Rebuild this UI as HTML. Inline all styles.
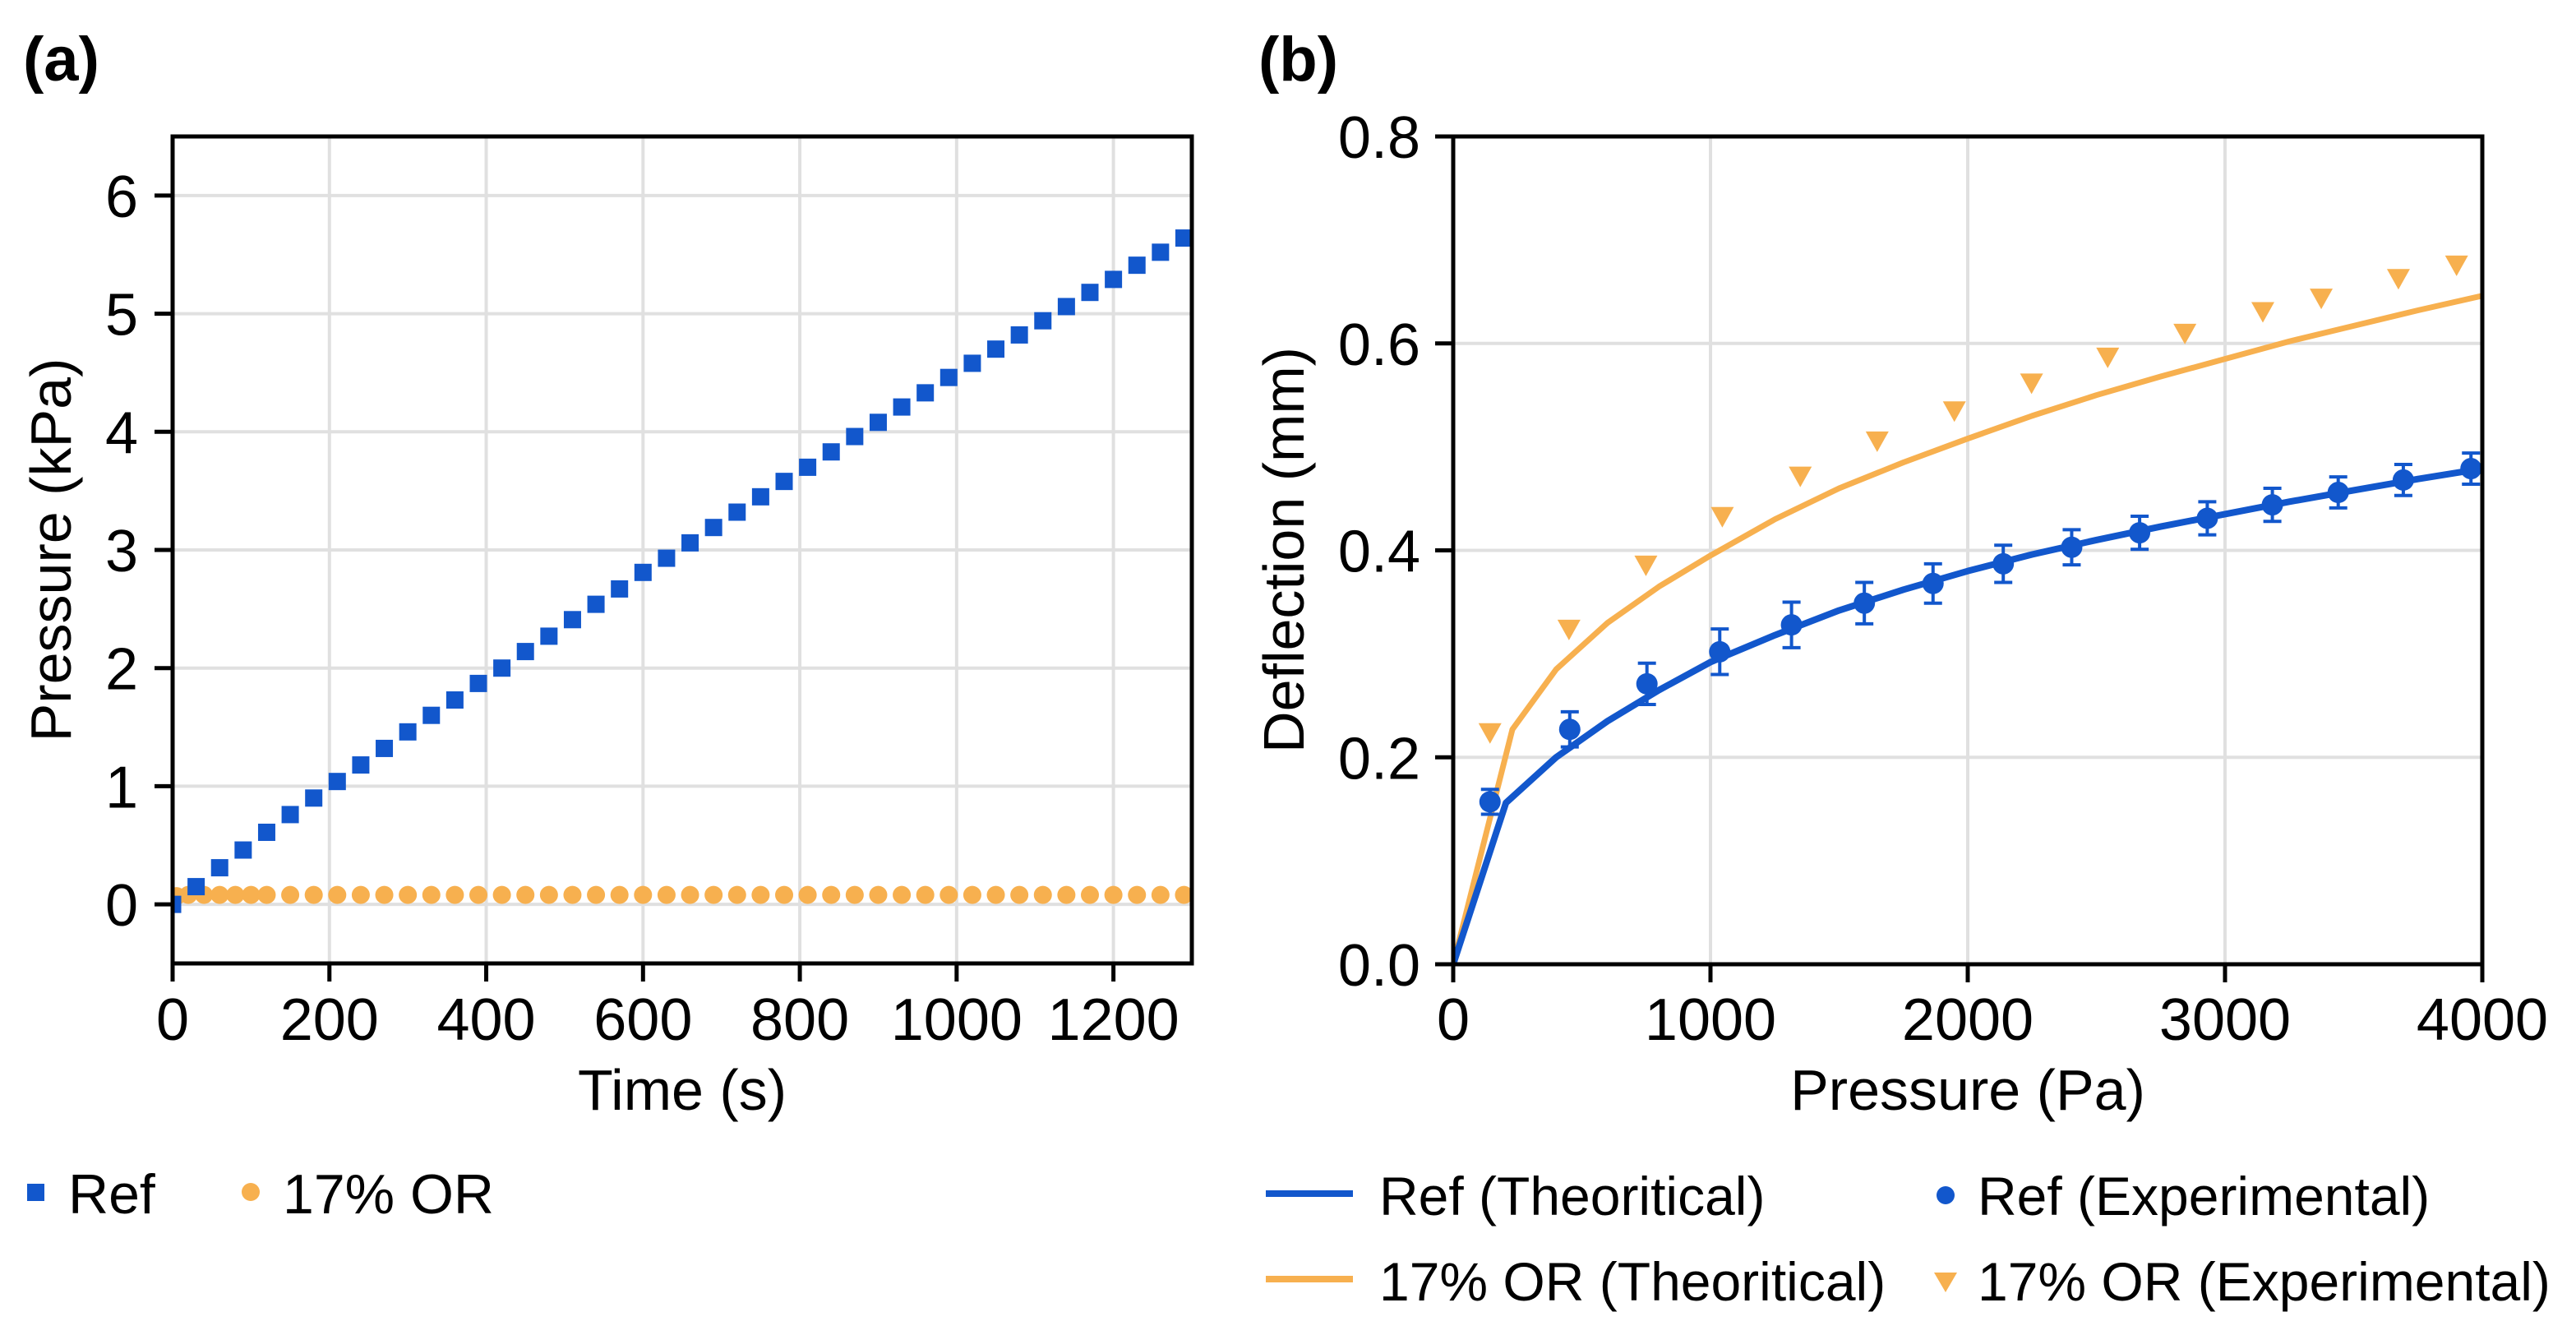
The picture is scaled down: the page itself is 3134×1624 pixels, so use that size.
<!DOCTYPE html>
<html><head><meta charset="utf-8"><style>
html,body{margin:0;padding:0;background:#fff;}
svg{display:block;font-family:"Liberation Sans",sans-serif;}
</style></head><body>
<svg id="fig" width="3134" height="1624" viewBox="0 0 3134 1624" xmlns="http://www.w3.org/2000/svg">
<text x="28" y="98" font-size="76" font-weight="bold">(a)</text>
<text x="1531" y="98" font-size="76" font-weight="bold">(b)</text>
<g id="pa"></g>
<g id="pb"></g>
<g>
<rect x="33" y="1440" width="21" height="21" fill="#1257cc"/>
<text x="83" y="1476" font-size="68">Ref</text>
<circle cx="305" cy="1450" r="11" fill="#f7b04f"/>
<text x="344" y="1476" font-size="68">17% OR</text>
</g>
<g>
<line x1="1540" y1="1452" x2="1646" y2="1452" stroke="#1257cc" stroke-width="8"/>
<text x="1678" y="1478" font-size="66">Ref (Theoritical)</text>
<line x1="1540" y1="1556" x2="1646" y2="1556" stroke="#f7b04f" stroke-width="8"/>
<text x="1678" y="1582" font-size="66">17% OR (Theoritical)</text>
<circle cx="2367" cy="1454" r="11" fill="#1257cc"/>
<text x="2406" y="1478" font-size="66">Ref (Experimental)</text>
<path d="M2353,1548 L2381,1548 L2367,1572 Z" fill="#f7b04f"/>
<text x="2406" y="1582" font-size="66">17% OR (Experimental)</text>
</g>
</svg>
<script>
// Panel A data
const aRefT = [0,30,60,90,120,150,180,210,240,270,300,330,360,390,420,450,480,510,540,570,600,630,660,690,720,750,780,810,840,870,900,930,960,990,1020,1050,1080,1110,1140,1170,1200,1230,1260,1290];
const aRefP = [0.0,0.15,0.31,0.46,0.61,0.76,0.90,1.04,1.18,1.32,1.46,1.60,1.73,1.87,2.00,2.14,2.27,2.41,2.54,2.67,2.81,2.93,3.06,3.19,3.32,3.45,3.58,3.70,3.83,3.96,4.08,4.21,4.33,4.46,4.58,4.70,4.82,4.94,5.06,5.18,5.29,5.41,5.52,5.64];
const aOrT = [5,20,40,60,80,100,120,150,180,210,240,270,300,330,360,390,420,450,480,510,540,570,600,630,660,690,720,750,780,810,840,870,900,930,960,990,1020,1050,1080,1110,1140,1170,1200,1230,1260,1290];
const aOrP = [0.07,0.08,0.08,0.08,0.08,0.08,0.08,0.08,0.08,0.08,0.08,0.08,0.08,0.08,0.08,0.08,0.08,0.08,0.08,0.08,0.08,0.08,0.08,0.08,0.08,0.08,0.08,0.08,0.08,0.08,0.08,0.08,0.08,0.08,0.08,0.08,0.08,0.08,0.08,0.08,0.08,0.08,0.08,0.08,0.08,0.08];
const aXTicks = [0,200,400,600,800,1000,1200];
const aYTicks = [0,1,2,3,4,5,6];
// Panel B data
const bRefTheoX = [0,205,400,600,800,1000,1250,1500,1750,2000,2250,2500,2750,3000,3250,3500,3750,4000];
const bRefTheoY = [0,0.156,0.2,0.235,0.265,0.292,0.318,0.342,0.362,0.38,0.396,0.41,0.423,0.435,0.447,0.458,0.469,0.479];
const bOrTheoX = [0,230,400,600,800,1000,1250,1500,1750,2000,2250,2500,2750,3000,3250,3500,3750,4000];
const bOrTheoY = [0,0.227,0.285,0.33,0.365,0.395,0.43,0.46,0.485,0.508,0.53,0.55,0.568,0.585,0.602,0.617,0.632,0.646];
const bRefExpX = [143,453,753,1036,1315,1598,1865,2138,2404,2668,2931,3184,3440,3693,3956];
const bRefExpY = [0.157,0.227,0.271,0.302,0.328,0.349,0.368,0.387,0.403,0.417,0.431,0.444,0.456,0.468,0.479];
const bRefExpErr = [0.012,0.017,0.02,0.022,0.022,0.02,0.019,0.018,0.017,0.016,0.016,0.016,0.015,0.015,0.015];
const bOrExpX = [143,450,749,1046,1349,1648,1948,2248,2544,2844,3147,3374,3674,3900];
const bOrExpY = [0.225,0.325,0.387,0.434,0.473,0.507,0.536,0.563,0.588,0.611,0.632,0.645,0.664,0.677];
const bXTicks = [0,1000,2000,3000,4000];
const bYTicks = [0,0.2,0.4,0.6,0.8];
const bYLabels = ["0.0","0.2","0.4","0.6","0.8"];

const NS="http://www.w3.org/2000/svg";
const BLUE="#1257cc", ORANGE="#f7b04f";
const TF=72;
function mk(parent,tag,attrs){const e=document.createElementNS(NS,tag);for(const k in attrs)e.setAttribute(k,attrs[k]);parent.appendChild(e);return e;}

// Panel A
const ga=document.getElementById('pa');
const aL=210,aR=1450,aT=166,aB=1172;
const ax=v=>aL+(v-0)/1300*(aR-aL);
const ay=v=>aB-(v+0.5)/7*(aB-aT);
aXTicks.forEach(t=>{const g=mk(ga,'line',{x1:ax(t),x2:ax(t),y1:aT,y2:aB,stroke:'#e0e0e0','stroke-width':4});


const tk=mk(ga,'line',{x1:ax(t),x2:ax(t),y1:aB,y2:aB+22,stroke:'#000','stroke-width':5});


const tx=mk(ga,'text',{x:ax(t),y:1265,'font-size':TF,'text-anchor':'middle'});tx.textContent=t;

});
aYTicks.forEach(t=>{const g=mk(ga,'line',{x1:aL,x2:aR,y1:ay(t),y2:ay(t),stroke:'#e0e0e0','stroke-width':4});


const tk=mk(ga,'line',{x1:aL-22,x2:aL,y1:ay(t),y2:ay(t),stroke:'#000','stroke-width':5});


const tx=mk(ga,'text',{x:168,y:ay(t)+26,'font-size':TF,'text-anchor':'end'});tx.textContent=t;

});
const clipA=mk(ga,'clipPath',{id:'ca'});mk(clipA,'rect',{x:aL,y:aT,width:aR-aL,height:aB-aT});
const ma=mk(ga,'g',{'clip-path':'url(#ca)'});


aOrT.forEach((t,i)=>{const c=mk(ma,'circle',{cx:ax(t),cy:ay(aOrP[i]),r:11,fill:ORANGE});

});
aRefT.forEach((t,i)=>{const r=mk(ma,'rect',{x:ax(t)-10.5,y:ay(aRefP[i])-10.5,width:21,height:21,fill:BLUE});

});
const fa=mk(ga,'rect',{x:aL,y:aT,width:aR-aL,height:aB-aT,fill:'none',stroke:'#000','stroke-width':5});


const xta=mk(ga,'text',{x:(aL+aR)/2,y:1350,'font-size':70,'text-anchor':'middle'});xta.textContent='Time (s)';


const yta=mk(ga,'text',{x:0,y:0,'font-size':70,'text-anchor':'middle',transform:'translate(86,669) rotate(-90)'});yta.textContent='Pressure (kPa)';



// Panel B
const gb=document.getElementById('pb');
const bL=1768,bR=3020,bT=166,bB=1173;
const bx=v=>bL+v/4000*(bR-bL);
const by=v=>bB-v/0.8*(bB-bT);
bXTicks.forEach(t=>{const g=mk(gb,'line',{x1:bx(t),x2:bx(t),y1:bT,y2:bB,stroke:'#e0e0e0','stroke-width':4});


const tk=mk(gb,'line',{x1:bx(t),x2:bx(t),y1:bB,y2:bB+22,stroke:'#000','stroke-width':5});


const tx=mk(gb,'text',{x:bx(t),y:1265,'font-size':TF,'text-anchor':'middle'});tx.textContent=t;

});
bYTicks.forEach((t,i)=>{const g=mk(gb,'line',{x1:bL,x2:bR,y1:by(t),y2:by(t),stroke:'#e0e0e0','stroke-width':4});


const tk=mk(gb,'line',{x1:bL-22,x2:bL,y1:by(t),y2:by(t),stroke:'#000','stroke-width':5});


const tx=mk(gb,'text',{x:1728,y:by(t)+26,'font-size':TF,'text-anchor':'end'});tx.textContent=bYLabels[i];

});
const clipB=mk(gb,'clipPath',{id:'cb'});mk(clipB,'rect',{x:bL,y:bT,width:bR-bL,height:bB-bT});
const mb=mk(gb,'g',{'clip-path':'url(#cb)'});


const lo=mk(mb,'polyline',{points:bOrTheoX.map((x,i)=>bx(x)+','+by(bOrTheoY[i])).join(' '),fill:'none',stroke:ORANGE,'stroke-width':7,'stroke-linejoin':'round'});


const lr=mk(mb,'polyline',{points:bRefTheoX.map((x,i)=>bx(x)+','+by(bRefTheoY[i])).join(' '),fill:'none',stroke:BLUE,'stroke-width':8,'stroke-linejoin':'round'});


bOrExpX.forEach((x,i)=>{const cx=bx(x),cy=by(bOrExpY[i]);
const p=mk(mb,'path',{d:`M${cx-14},${cy-10} L${cx+14},${cy-10} L${cx},${cy+15} Z`,fill:ORANGE});

});
bRefExpX.forEach((x,i)=>{const cx=bx(x),cy=by(bRefExpY[i]),t=by(bRefExpY[i]+bRefExpErr[i]),b=by(bRefExpY[i]-bRefExpErr[i]);
const e=mk(mb,'path',{d:`M${cx},${t} L${cx},${b} M${cx-11},${t} L${cx+11},${t} M${cx-11},${b} L${cx+11},${b}`,stroke:BLUE,'stroke-width':4,fill:'none'});


const c=mk(mb,'circle',{cx:cx,cy:cy,r:13,fill:BLUE});

});
const fb=mk(gb,'rect',{x:bL,y:bT,width:bR-bL,height:bB-bT,fill:'none',stroke:'#000','stroke-width':5});


const xtb=mk(gb,'text',{x:(bL+bR)/2,y:1350,'font-size':70,'text-anchor':'middle'});xtb.textContent='Pressure (Pa)';


const ytb=mk(gb,'text',{x:0,y:0,'font-size':70,'text-anchor':'middle',transform:'translate(1586,669) rotate(-90)'});ytb.textContent='Deflection (mm)';


</script>
</body></html>
